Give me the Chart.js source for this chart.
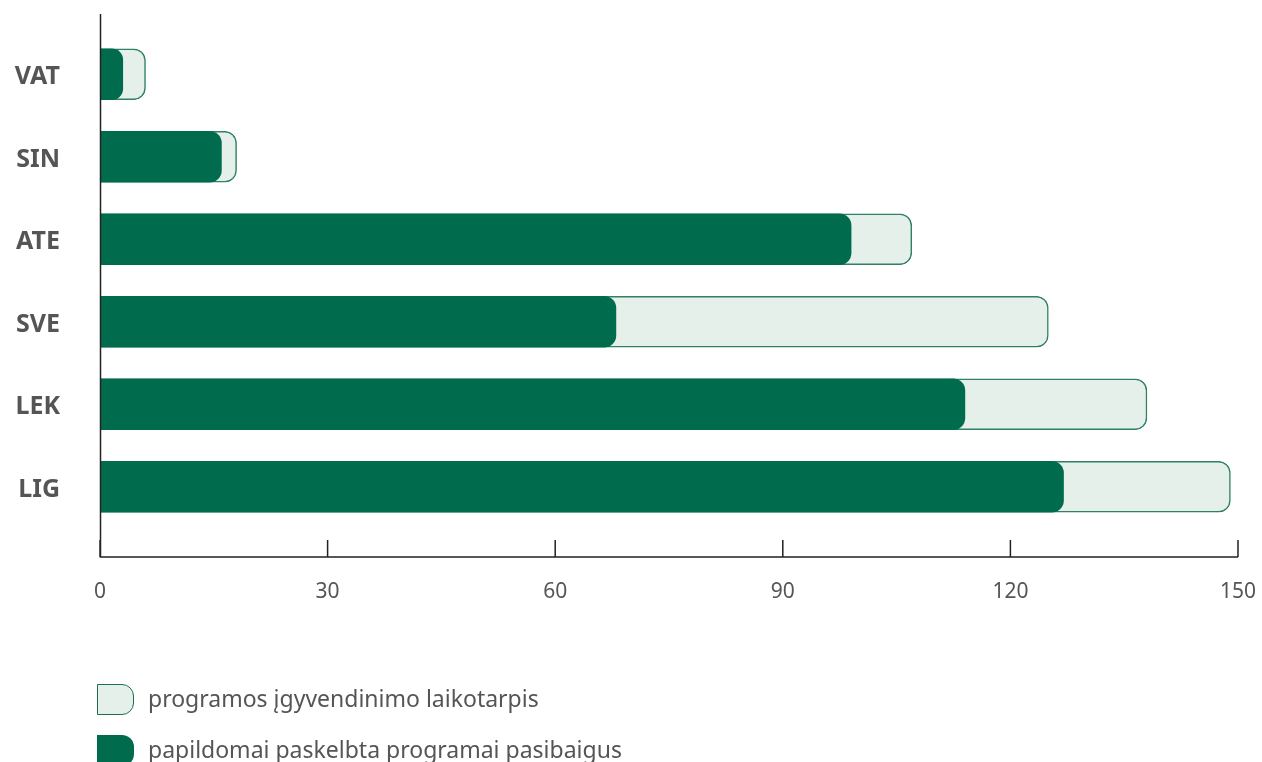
<!DOCTYPE html>
<html>
<head>
<meta charset="utf-8">
<script src="https://cdn.jsdelivr.net/npm/chart.js@4.4.1/dist/chart.umd.min.js"></script>
<style>
  body { margin: 0; background: #fff; font-family: "Noto Sans", sans-serif; }
  #wrap { position: relative; width: 1262px; height: 762px; overflow: hidden; }
  #legend { position: absolute; left: 97px; top: 684px; color: #555; font-size: 23px; }
  .item { display: flex; align-items: center; height: 31px; margin-bottom: 20px; }
  .item span { position: relative; top: -2px; }
  .box { width: 37px; height: 31px; box-sizing: border-box; border-radius: 0 12px 12px 0; margin-right: 14px; }
  .light { background: #e5f0eb; border: 1.5px solid #1f6e4f; }
  .dark { background: #006b4d; }
</style>
</head>
<body>
<div id="wrap">
  <canvas id="myChart" width="1262" height="762"></canvas>
  <div id="legend"></div>
</div>
<script>
var categories = ["VAT", "SIN", "ATE", "SVE", "LEK", "LIG"];
var totalPeriod = [6, 18, 107, 125, 138, 149];
var afterEnd = [3, 16, 99, 68, 114, 127];
var seriesNames = ["programos įgyvendinimo laikotarpis", "papildomai paskelbta programai pasibaigus"];
var xTicks = [0, 30, 60, 90, 120, 150];

// axis lines and upward tick marks like the original
var axisPlugin = {
    id: "axisLines",
    afterDraw: function(chart) {
        var ctx = chart.ctx;
        var area = chart.chartArea;
        var x = chart.scales.x;
        var baseY = area.bottom + 29;
        ctx.save();
        ctx.strokeStyle = "#222";
        ctx.lineWidth = 1.5;
        ctx.beginPath();
        ctx.moveTo(area.left + 0.5, area.top - 19);
        ctx.lineTo(area.left + 0.5, baseY);
        ctx.lineTo(x.getPixelForValue(150), baseY);
        xTicks.forEach(function(v) {
            var px = x.getPixelForValue(v);
            ctx.moveTo(px, baseY);
            ctx.lineTo(px, baseY - 17);
        });
        ctx.stroke();
        ctx.restore();
    }
};

var ctx = document.getElementById("myChart");
var chart = new Chart(ctx, {
    type: "bar",
    data: {
        labels: categories,
        datasets: [
            {
                label: seriesNames[1],
                data: afterEnd,
                backgroundColor: "#006b4d",
                borderWidth: 0,
                borderRadius: { topRight: 12, bottomRight: 12 },
                borderSkipped: false,
                barThickness: 51,
                grouped: false,
                order: 0
            },
            {
                label: seriesNames[0],
                data: totalPeriod,
                backgroundColor: "#e5f0eb",
                borderColor: "#2f8064",
                borderWidth: 1.5,
                borderRadius: { topRight: 12, bottomRight: 12 },
                borderSkipped: "start",
                barThickness: 51,
                grouped: false,
                order: 1
            }
        ]
    },
    options: {
        indexAxis: "y",
        responsive: false,
        animation: false,
        layout: { padding: { top: 33, right: 24, bottom: 160, left: 0 } },
        plugins: { legend: { display: false }, tooltip: { enabled: false } },
        scales: {
            x: {
                min: 0,
                max: 150,
                afterBuildTicks: function(scale) {
                    scale.ticks = xTicks.map(function(v) { return { value: v }; });
                },
                afterFit: function(scale) {
                    scale.height = 74;
                    scale.paddingLeft = 0;
                    scale.paddingRight = 0;
                },
                grid: { display: false, drawTicks: false },
                border: { display: false },
                ticks: { color: "#555", padding: 51, maxRotation: 0, autoSkip: false,
                         font: { family: "Noto Sans", size: 21 } }
            },
            y: {
                afterFit: function(scale) {
                    scale.width = 100;
                    scale.paddingTop = 0;
                    scale.paddingBottom = 0;
                },
                grid: { display: false, drawTicks: false },
                border: { display: false },
                ticks: { color: "#555", padding: 40, labelOffset: 3,
                         font: { family: "Noto Sans", size: 25, weight: "bold" } }
            }
        }
    },
    plugins: [axisPlugin]
});

var legend = document.getElementById("legend");
[["light", seriesNames[0]], ["dark", seriesNames[1]]].forEach(function(it) {
    var row = document.createElement("div");
    row.className = "item";
    row.innerHTML = '<div class="box ' + it[0] + '"></div><span>' + it[1] + '</span>';
    legend.appendChild(row);
});
</script>
</body>
</html>
